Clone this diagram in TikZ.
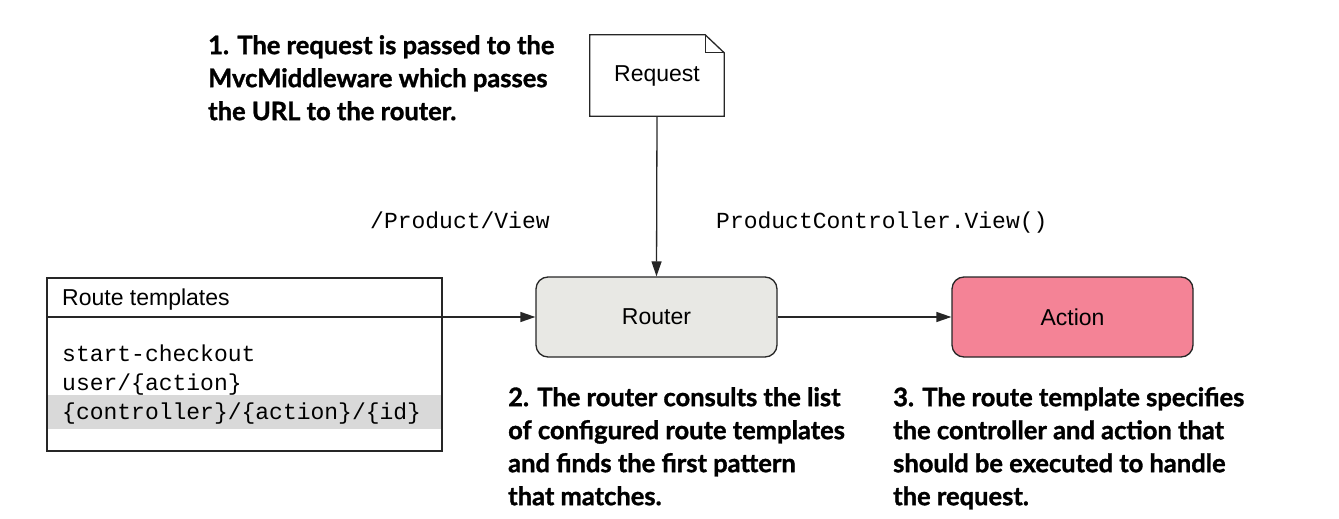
\documentclass[tikz,border=0pt]{standalone}
\usepackage{fontspec}
\setmainfont{Liberation Sans}
\setmonofont{Liberation Mono}
\newfontfamily\notefont{Lato}[BoldFeatures={FakeBold=1.3}]
\usetikzlibrary{arrows.meta}

\definecolor{routerfill}{HTML}{E8E8E4}
\definecolor{actionfill}{HTML}{F48396}
\definecolor{bandfill}{HTML}{D9D9D9}
\definecolor{ink}{HTML}{262626}

\begin{document}
\begin{tikzpicture}[x=1pt,y=-1pt,
  line/.style={draw=ink, line width=1.3pt},
  arr/.style={line, -{Triangle[length=15pt,width=10pt]}},
  box/.style={line, rounded corners=12pt, minimum width=241pt, minimum height=80pt,
              inner sep=0pt, font=\fontsize{23}{28}\selectfont},
  label/.style={inner sep=0pt, anchor=base west, font=\fontsize{23}{28}\selectfont},
  code/.style={inner sep=0pt, anchor=base west, font=\ttfamily\fontsize{23}{28}\selectfont},
  note/.style={inner sep=0pt, anchor=north west, align=left,
               font=\notefont\bfseries\fontsize{25.5}{33}\selectfont},
]
\useasboundingbox (0,0) rectangle (1339,519);

% request document with folded corner
\node (req) [minimum width=134pt, minimum height=81pt, inner sep=0pt,
             font=\fontsize{23}{28}\selectfont] at (657,75.5) {Request};
\draw[line, fill=white] (req.north west) -- ([xshift=-19pt]req.north east)
  -- ([yshift=-18pt]req.north east) -- (req.south east) -- (req.south west) -- cycle;
\draw[line] ([xshift=-19pt]req.north east) -- ([xshift=-19pt,yshift=-18pt]req.north east)
  -- ([yshift=-18pt]req.north east);
\node[font=\fontsize{23}{28}\selectfont] at (req.center) {Request};

% router and action
\node (router) [box, fill=routerfill] at (656.5,317) {Router};
\node (action) [box, fill=actionfill] at (1072.5,317) {Action};

% route template list
\fill[bandfill] (47,395) rectangle (442,429);
\node (rt) [line, minimum width=395pt, minimum height=173pt, inner sep=0pt] at (244.5,364.5) {};
\draw[line] (rt.west |- router.west) -- (rt.east |- router.west);
\node (hdr) [label] at (62,305) {Route templates};
\node (t1) [code] at (62,361) {start-checkout};
\node (t2) [code] at (62,390) {user/\{action\}};
\node (t3) [code] at (62,419) {\{controller\}/\{action\}/\{id\}};

% connectors
\draw[arr] (req.south) -- (router.north);
\draw[arr] (rt.east |- router.west) -- (router.west);
\draw[arr] (router.east) -- (action.west);

% values passed along
\node (url) [code] at (370,228) {/Product/View};
\node (ctl) [code] at (716,228) {ProductController.View()};

% step notes
\node (n1) [note] at (208,35) {1. The request is passed to the\\MvcMiddleware which passes\\the URL to the router.};
\node (n2) [note] at (508,387) {2. The router consults the list\\of configured route templates\\and finds the first pattern\\that matches.};
\node (n3) [note] at (893,387) {3. The route template specifies\\the controller and action that\\should be executed to handle\\the request.};
\end{tikzpicture}
\end{document}
